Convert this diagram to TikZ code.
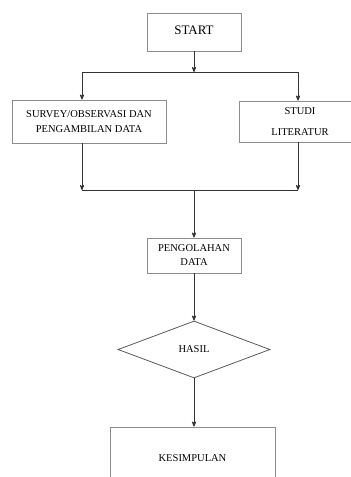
\documentclass[tikz,border=0pt]{standalone}
\usepackage{fontspec}
\setmainfont{Liberation Serif}
\usetikzlibrary{positioning, arrows, shapes.geometric}

\begin{document}
\begin{tikzpicture}[x=1pt,y=-1pt,>=stealth',line width=0.8pt,
        line/.style={draw=black!80},
        box node/.style={rectangle,draw=black!45,line width=0.9pt,align=center,inner sep=0pt,font=\fontsize{10.5}{15}\selectfont},
        check node/.style={diamond,draw=black!65,line width=0.8pt,inner sep=0pt,font=\fontsize{10.5}{13}\selectfont}]
        \useasboundingbox (0,0) rectangle (351,477);
        \node[box node,minimum width=94pt,minimum height=38pt,font=\fontsize{13}{15}\selectfont,text depth=4pt] (start) at (194,32) {START};
        \node[box node,minimum width=154pt,minimum height=43pt] (survey) at (89,121.5) {SURVEY/OBSERVASI DAN\\PENGAMBILAN DATA};
        \node[box node,minimum width=122pt,minimum height=41pt,font=\fontsize{10.5}{21}\selectfont] (studi) at (300,121.5) {STUDI\\LITERATUR};
        \node[box node,minimum width=94pt,minimum height=35pt,font=\fontsize{10.5}{14}\selectfont] (olah) at (194,255.5) {PENGOLAHAN\\DATA};
        \node[check node,minimum width=152pt,minimum height=57pt] (hasil) at (194,349.5) {HASIL\\[4pt]};
        \node[box node,minimum width=165pt,minimum height=62pt] (simpul) at (192.5,458) {KESIMPULAN};

        \coordinate (split) at (194,72);
        \coordinate (splitL) at (82,72);
        \coordinate (splitR) at (298,72);
        \coordinate (join) at (194,190);
        \coordinate (joinL) at (82,190);
        \coordinate (joinR) at (298,190);

        \draw[line,->] (start.south) -- (split);
        \draw[line] (splitL) -- (splitR);
        \draw[line,->] (splitL) -- (splitL |- survey.north);
        \draw[line,->] (splitR) -- (splitR |- studi.north);
        \draw[line,->] (survey.south -| joinL) -- (joinL);
        \draw[line,->] (studi.south -| joinR) -- (joinR);
        \draw[line] (joinL) -- (joinR);
        \draw[line,->] (join) -- (olah.north);
        \draw[line,->] (olah.south) -- (hasil.north);
        \draw[line,->] (hasil.south) -- (hasil.south |- simpul.north);
    \end{tikzpicture}
\end{document}
